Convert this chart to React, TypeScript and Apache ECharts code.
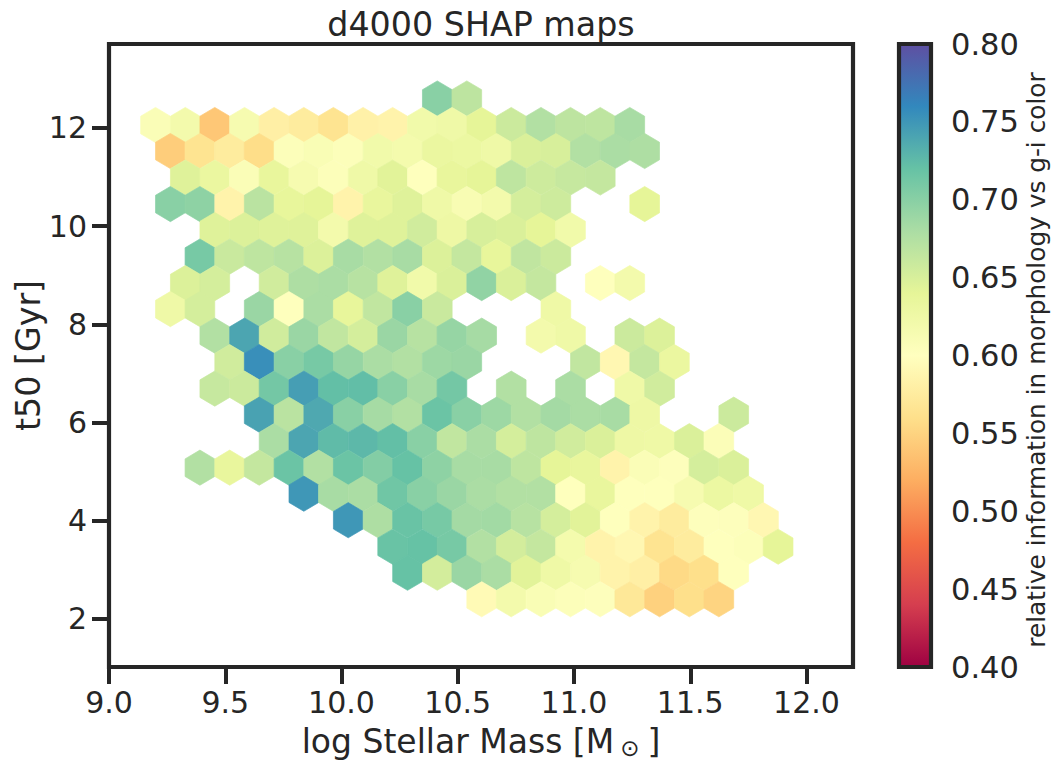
import { useEffect, useRef } from "react";
import * as echarts from "echarts";

// hexbin lattice: odd rows and even rows are shifted half a cell
const massOdd = [9.2, 9.328, 9.455, 9.583, 9.71, 9.838, 9.965, 10.093, 10.22, 10.348, 10.475, 10.603, 10.73, 10.858, 10.985, 11.113, 11.24, 11.368, 11.496, 11.623, 11.751, 11.878];
const massEven = [9.264, 9.391, 9.519, 9.646, 9.774, 9.902, 10.029, 10.157, 10.284, 10.412, 10.539, 10.667, 10.794, 10.922, 11.049, 11.177, 11.304, 11.432, 11.559, 11.687, 11.815];
const t50Rows = [12.6, 12.06, 11.53, 10.99, 10.45, 9.92, 9.38, 8.84, 8.31, 7.77, 7.23, 6.69, 6.16, 5.62, 5.08, 4.55, 4.01, 3.47, 2.94, 2.4];

const _ = null;
// one list per row, top to bottom, value per lattice column (_ = empty cell)
const row0 = [_, _, _, _, _, _, _, _, _, 0.7, 0.668];
const row1 = [0.608, 0.62, 0.54, 0.615, 0.58, 0.575, 0.565, 0.582, 0.585, 0.622, 0.625, 0.64, 0.658, 0.675, 0.668, 0.667, 0.682];
const row2 = [0.545, 0.565, 0.575, 0.558, 0.605, 0.61, 0.605, 0.622, 0.618, 0.632, 0.63, 0.625, 0.648, 0.65, 0.675, 0.68, 0.678];
const row3 = [_, 0.645, 0.632, 0.608, 0.636, 0.615, 0.605, 0.625, 0.643, 0.602, 0.636, 0.64, 0.667, 0.657, 0.662, 0.663];
const row4 = [0.7, 0.697, 0.585, 0.67, 0.637, 0.64, 0.585, 0.635, 0.645, 0.625, 0.612, 0.62, 0.652, 0.657, _, _, 0.64];
const row5 = [_, _, 0.645, 0.647, 0.645, 0.645, 0.62, 0.645, 0.645, 0.655, 0.627, 0.65, 0.648, 0.64, 0.622];
const row6 = [_, 0.71, 0.66, 0.667, 0.672, 0.647, 0.682, 0.675, 0.682, 0.647, 0.663, 0.637, 0.666, 0.658];
const row7 = [_, 0.647, 0.652, _, 0.655, 0.678, 0.68, 0.672, 0.645, 0.622, 0.648, 0.695, 0.648, 0.663, _, 0.602, 0.62];
const row8 = [0.625, 0.652, _, 0.69, 0.602, 0.68, 0.637, 0.665, 0.7, 0.66, _, _, _, 0.626];
const row9 = [_, _, 0.675, 0.74, 0.655, 0.69, 0.665, 0.652, 0.69, 0.672, 0.692, 0.683, _, 0.62, 0.625, _, 0.658, 0.647];
const row10 = [_, _, 0.655, 0.755, 0.7, 0.71, 0.692, 0.68, 0.675, 0.688, 0.69, _, _, _, 0.665, 0.59, 0.663, 0.632];
const row11 = [_, _, 0.662, 0.658, 0.712, 0.745, 0.722, 0.723, 0.7, 0.682, 0.712, _, 0.675, _, 0.68, _, 0.625, 0.655];
const row12 = [_, _, _, 0.742, 0.67, 0.738, 0.7, 0.683, 0.675, 0.717, 0.7, 0.688, 0.675, 0.684, 0.68, 0.682, 0.627, _, _, 0.658];
const row13 = [_, _, _, _, 0.68, 0.74, 0.725, 0.727, 0.722, 0.7, 0.665, 0.68, 0.652, 0.667, 0.655, 0.648, 0.627, 0.626, 0.648, 0.607];
const row14 = [_, 0.675, 0.635, 0.663, 0.717, 0.675, 0.717, 0.703, 0.72, 0.697, 0.682, 0.682, 0.667, 0.64, 0.635, 0.585, 0.608, 0.603, 0.652, 0.648];
const row15 = [_, _, _, _, _, 0.75, 0.682, 0.68, 0.714, 0.7, 0.69, 0.68, 0.675, 0.675, 0.602, 0.635, 0.602, 0.602, 0.615, 0.63, 0.626];
const row16 = [_, _, _, _, _, _, 0.75, 0.678, 0.718, 0.71, 0.684, 0.685, 0.672, 0.652, 0.643, 0.602, 0.585, 0.575, 0.603, 0.603, 0.59];
const row17 = [_, _, _, _, _, _, _, _, 0.718, 0.72, 0.71, 0.675, 0.653, 0.663, 0.618, 0.585, 0.59, 0.565, 0.575, 0.602, 0.605, 0.64];
const row18 = [_, _, _, _, _, _, _, _, 0.72, 0.653, 0.69, 0.68, 0.643, 0.626, 0.615, 0.585, 0.58, 0.555, 0.56, 0.602];
const row19 = [_, _, _, _, _, _, _, _, _, _, _, 0.593, 0.62, 0.61, 0.605, 0.603, 0.57, 0.548, 0.56, 0.55];
const rows = [row0, row1, row2, row3, row4, row5, row6, row7, row8, row9, row10, row11, row12, row13, row14, row15, row16, row17, row18, row19];

const massTicks = [9, 9.5, 10, 10.5, 11, 11.5, 12];
const t50Ticks = [2, 4, 6, 8, 10, 12];
const spectral = ["#9e0142", "#d53e4f", "#f46d43", "#fdae61", "#fee08b", "#ffffbf", "#e6f598", "#abdda4", "#66c2a5", "#3288bd", "#5e4fa2"];

const INK = "#262626";
const FONT = "DejaVu Sans";
const HEX_HALF_W = 0.0638;
const HEX_RADIUS = 0.3582;

const hexData: number[][] = [];
rows.forEach((row, r) => {
  const lattice = r % 2 === 0 ? massEven : massOdd;
  row.forEach((v, k) => {
    if (v != null) hexData.push([lattice[k], t50Rows[r], v]);
  });
});

function renderHex(_p: any, api: any) {
  const x = api.value(0);
  const y = api.value(1);
  const color = api.visual("color");
  const pts = [
    [x, y + HEX_RADIUS],
    [x + HEX_HALF_W, y + HEX_RADIUS / 2],
    [x + HEX_HALF_W, y - HEX_RADIUS / 2],
    [x, y - HEX_RADIUS],
    [x - HEX_HALF_W, y - HEX_RADIUS / 2],
    [x - HEX_HALF_W, y + HEX_RADIUS / 2],
  ].map((p) => api.coord(p));
  return {
    type: "polygon",
    shape: { points: pts },
    style: { fill: color, stroke: color, lineWidth: 0.7 },
  };
}

function renderColorbar(_p: any, api: any) {
  const a = api.coord([0, 0.8]);
  const b = api.coord([1, 0.4]);
  return {
    type: "rect",
    shape: { x: a[0], y: a[1], width: b[0] - a[0], height: b[1] - a[1] },
    style: {
      fill: new echarts.graphic.LinearGradient(
        0,
        1,
        0,
        0,
        spectral.map((c, i) => ({ offset: i / (spectral.length - 1), color: c }))
      ),
    },
  };
}

export default function App() {
  const ref = useRef<HTMLDivElement>(null);
  useEffect(() => {
    if (!ref.current) return;
    const chart = echarts.init(ref.current, undefined, { renderer: "svg" });
    chart.setOption({
      animation: false,
      backgroundColor: "#ffffff",
      textStyle: { fontFamily: FONT, color: INK },
      title: {
        text: "d4000 SHAP maps",
        left: 476,
        top: 3,
        textAlign: "center",
        textStyle: { fontFamily: FONT, fontSize: 33.3, fontWeight: "normal", color: INK },
      },
      grid: [
        { left: 109, right: 206, top: 44, bottom: 104, show: true, borderColor: INK, borderWidth: 4.2, z: 3, outerBoundsMode: "none" },
        { left: 899, right: 128, top: 44, bottom: 104, show: true, borderColor: INK, borderWidth: 4.2, z: 3, outerBoundsMode: "none" },
      ],
      xAxis: [
        {
          type: "value",
          gridIndex: 0,
          min: 9,
          max: 12.2,
          splitLine: { show: false },
          axisLine: { show: false },
          axisTick: { length: 17, customValues: massTicks, lineStyle: { color: INK, width: 4 } },
          axisLabel: {
            customValues: massTicks,
            margin: 20,
            fontSize: 30,
            color: INK,
            fontFamily: FONT,
            formatter: (v: number) => v.toFixed(1),
          },
          name: "{a|log Stellar Mass [M}{b|⊙}{a|]}",
          nameLocation: "middle",
          nameGap: 57,
          nameMoveOverlap: false,
          nameTextStyle: {
            rich: {
              a: { fontFamily: FONT, fontSize: 33, color: INK },
              b: { fontFamily: FONT, fontSize: 23, color: INK, padding: [12, 8, 0, 6] },
            },
          },
        },
        { type: "value", gridIndex: 1, min: 0, max: 1, show: false },
      ],
      yAxis: [
        {
          type: "value",
          gridIndex: 0,
          min: 1.02,
          max: 13.71,
          splitLine: { show: false },
          axisLine: { show: false },
          axisTick: { length: 17, customValues: t50Ticks, lineStyle: { color: INK, width: 4 } },
          axisLabel: {
            customValues: t50Ticks,
            margin: 22,
            fontSize: 30,
            color: INK,
            fontFamily: FONT,
            formatter: (v: number) => String(v),
          },
          name: "t50 [Gyr]",
          nameLocation: "middle",
          nameRotate: 90,
          nameGap: 64,
          nameMoveOverlap: false,
          nameTextStyle: { fontFamily: FONT, fontSize: 33.3, color: INK },
        },
        {
          type: "value",
          gridIndex: 1,
          position: "right",
          min: 0.4,
          max: 0.8,
          interval: 0.05,
          splitLine: { show: false },
          axisLine: { show: false },
          axisTick: { length: 17, lineStyle: { color: INK, width: 4 } },
          axisLabel: {
            margin: 20,
            fontSize: 30.5,
            color: INK,
            fontFamily: FONT,
            formatter: (v: number) => v.toFixed(2),
          },
          name: "relative information in morphology vs g-i color",
          nameLocation: "middle",
          nameRotate: 90,
          nameGap: 93,
          nameMoveOverlap: false,
          nameTextStyle: { fontFamily: FONT, fontSize: 24.8, color: INK, padding: [0, 9, 0, 0] },
        },
      ],
      visualMap: {
        show: false,
        type: "continuous",
        seriesIndex: 0,
        dimension: 2,
        min: 0.4,
        max: 0.8,
        inRange: { color: spectral },
      },
      series: [
        {
          type: "custom",
          xAxisIndex: 0,
          yAxisIndex: 0,
          encode: { x: 0, y: 1 },
          data: hexData,
          renderItem: renderHex,
          silent: true,
          z: 1,
        },
        {
          type: "custom",
          xAxisIndex: 1,
          yAxisIndex: 1,
          data: [[0, 0.4]],
          renderItem: renderColorbar,
          silent: true,
          z: 1,
        },
      ],
    });
    return () => chart.dispose();
  }, []);
  return <div ref={ref} style={{ position: "fixed", left: 0, top: 0, width: 1059, height: 771 }} />;
}
